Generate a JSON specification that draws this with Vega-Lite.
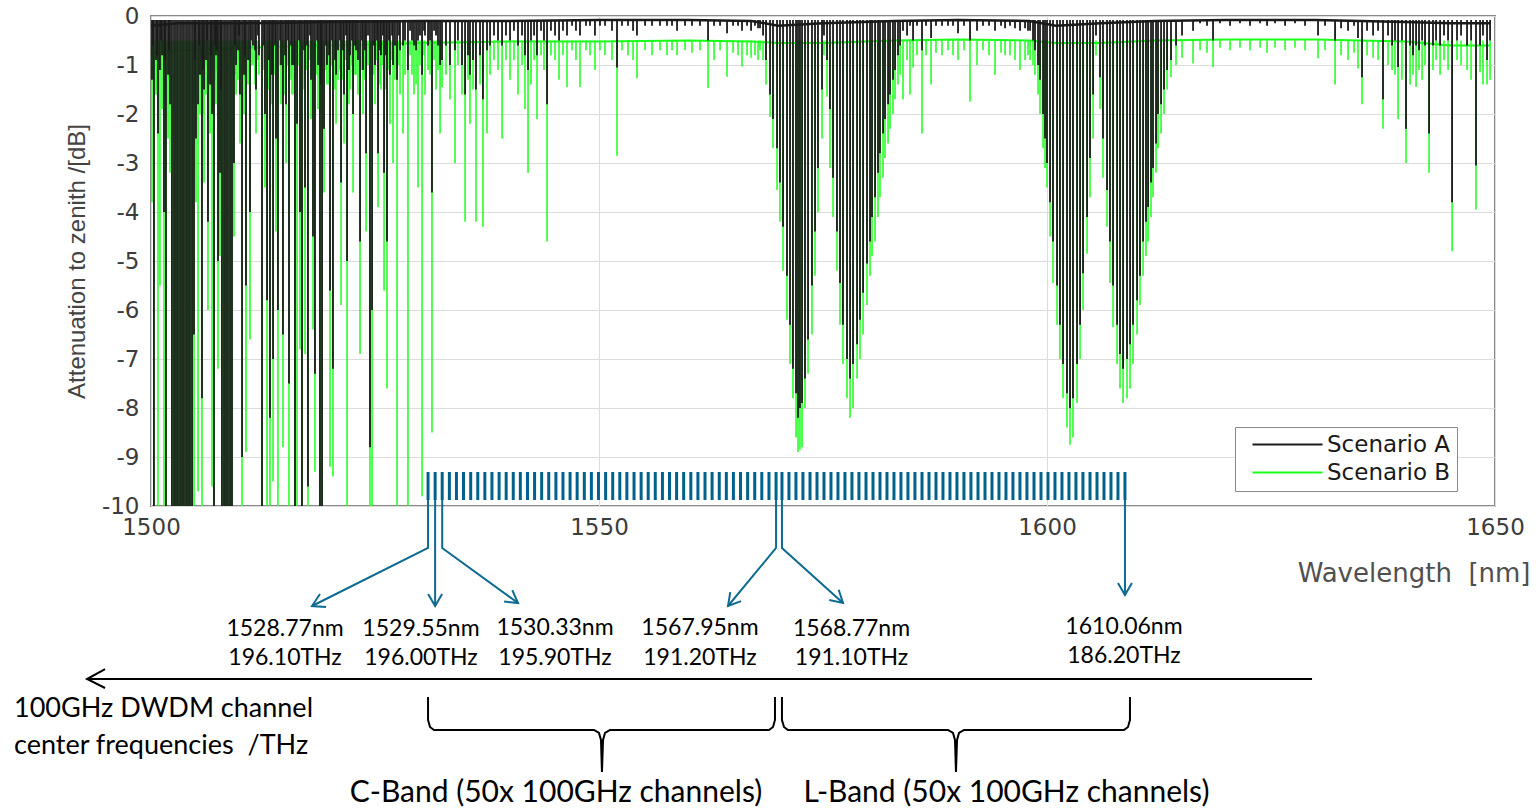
{
"$schema": "https://vega.github.io/schema/vega-lite/v6.json",
"width": 1344, "height": 490,
"autosize": {"type": "none"},
"padding": {"left": 151, "top": 16, "right": 43, "bottom": 305},
"background": "#ffffff",
"config": {
  "view": {"stroke": "#8a8a8a", "strokeWidth": 2},
  "axis": {"gridColor": "#dcdcdc", "gridWidth": 1, "domain": false, "ticks": false, "labelFont": "DejaVu Sans", "labelFontSize": 23, "labelColor": "#3c3c3c"}
},
"datasets": {
"lines": [
{"w":1500.11,"a":-1.3,"b":-3.8},{"w":1500.22,"a":-0.6,"b":-1.2},{"w":1500.33,"a":-10,"b":-10},{"w":1500.56,"a":-0.9,"b":-1.6},{"w":1500.67,"a":-0.8,"b":-1.5},{"w":1500.78,"a":-2.4,"b":-10},{"w":1501.0,"a":-1.1,"b":-5.5},{"w":1501.12,"a":-0.5,"b":-1.1},{"w":1501.23,"a":-0.8,"b":-1.9},{"w":1501.45,"a":-4.0,"b":-10},{"w":1501.56,"a":-0.9,"b":-1.6},{"w":1501.67,"a":-10,"b":-10},{"w":1501.9,"a":-1.2,"b":-2.5},{"w":1502.01,"a":-0.7,"b":-1.3},{"w":1502.12,"a":-1.8,"b":-3.2},
{"w":1502.34,"a":-10,"b":-10},{"w":1502.57,"a":-10,"b":-10},{"w":1502.79,"a":-10,"b":-10},{"w":1503.01,"a":-10,"b":-10},{"w":1503.24,"a":-10,"b":-10},{"w":1503.46,"a":-10,"b":-10},{"w":1503.68,"a":-10,"b":-10},{"w":1503.91,"a":-10,"b":-10},{"w":1504.13,"a":-10,"b":-10},{"w":1504.35,"a":-10,"b":-10},{"w":1504.58,"a":-10,"b":-10},
{"w":1504.8,"a":-6.5,"b":-10},{"w":1504.91,"a":-0.9,"b":-1.7},{"w":1505.02,"a":-2.5,"b":-3.8},{"w":1505.25,"a":-1.8,"b":-9.7},{"w":1505.36,"a":-0.6,"b":-1.2},{"w":1505.47,"a":-1.2,"b":-2.0},{"w":1505.69,"a":-7.8,"b":-10},{"w":1505.8,"a":-1.1,"b":-2.0},{"w":1505.92,"a":-1.5,"b":-3.4},{"w":1506.14,"a":-0.9,"b":-1.6},{"w":1506.25,"a":-0.5,"b":-1.0},{"w":1506.36,"a":-4.2,"b":-6.0},{"w":1506.59,"a":-1.4,"b":-2.4},{"w":1506.7,"a":-0.8,"b":-1.4},{"w":1506.81,"a":-2.0,"b":-9.6},{"w":1507.03,"a":-10,"b":-10},{"w":1507.14,"a":-0.6,"b":-1.3},{"w":1507.25,"a":-0.8,"b":-1.8},{"w":1507.37,"a":-0.7,"b":-1.1},{"w":1507.48,"a":-5.0,"b":-7.2},{"w":1507.7,"a":-3.2,"b":-4.9},{"w":1507.81,"a":-1.5,"b":-2.2},
{"w":1507.92,"a":-10,"b":-10},{"w":1508.15,"a":-10,"b":-10},{"w":1508.37,"a":-10,"b":-10},{"w":1508.59,"a":-10,"b":-10},{"w":1508.82,"a":-10,"b":-10},{"w":1509.04,"a":-10,"b":-10},
{"w":1509.26,"a":-3.0,"b":-4.5},{"w":1509.38,"a":-0.6,"b":-1.2},{"w":1509.49,"a":-1.0,"b":-1.6},{"w":1509.71,"a":-0.7,"b":-1.3},{"w":1509.82,"a":-0.4,"b":-0.9},{"w":1509.93,"a":-1.6,"b":-2.6},{"w":1510.16,"a":-9.0,"b":-10},{"w":1510.38,"a":-1.2,"b":-2.0},{"w":1510.49,"a":-0.8,"b":-1.3},{"w":1510.6,"a":-5.5,"b":-8.9},{"w":1510.83,"a":-0.9,"b":-1.4},{"w":1511.05,"a":-4.0,"b":-6.6},{"w":1511.16,"a":-0.5,"b":-1.0},{"w":1511.38,"a":-0.6,"b":-1.0},{"w":1511.61,"a":-0.7,"b":-1.4},{"w":1511.72,"a":-1.5,"b":-2.4},{"w":1511.94,"a":-0.4,"b":-0.9},{"w":1512.05,"a":-0.8,"b":-1.2},{"w":1512.39,"a":-10,"b":-10},{"w":1512.61,"a":-0.6,"b":-1.1},{"w":1512.72,"a":-2.0,"b":-3.5},{"w":1512.95,"a":-5.8,"b":-10},{"w":1513.17,"a":-0.9,"b":-1.5},{"w":1513.28,"a":-8.2,"b":-10},{"w":1513.5,"a":-1.2,"b":-1.8},{"w":1513.62,"a":-7.0,"b":-9.5},{"w":1513.84,"a":-0.6,"b":-1.2},{"w":1513.95,"a":-2.5,"b":-4.4},{"w":1514.17,"a":-6.0,"b":-10},{"w":1514.4,"a":-0.5,"b":-1.0},{"w":1514.51,"a":-1.0,"b":-1.8},{"w":1514.73,"a":-6.5,"b":-8.8},{"w":1514.96,"a":-0.8,"b":-1.6},{"w":1515.07,"a":-1.8,"b":-3.0},{"w":1515.29,"a":-0.5,"b":-1.0},{"w":1515.4,"a":-7.5,"b":-10},{"w":1515.63,"a":-0.6,"b":-1.3},{"w":1515.74,"a":-1.0,"b":-1.6},{"w":1515.96,"a":-1.0,"b":-1.6},{"w":1516.07,"a":-10,"b":-10},{"w":1516.3,"a":-2.2,"b":-10},{"w":1516.52,"a":-0.5,"b":-1.0},{"w":1516.63,"a":-4.0,"b":-6.8},{"w":1516.85,"a":-10,"b":-10},{"w":1517.08,"a":-0.7,"b":-1.5},{"w":1517.19,"a":-3.5,"b":-6.9},{"w":1517.41,"a":-0.6,"b":-1.1},{"w":1517.52,"a":-9.6,"b":-10},{"w":1517.75,"a":-0.4,"b":-0.9},{"w":1517.86,"a":-1.3,"b":-2.1},{"w":1518.08,"a":-4.5,"b":-6.4},{"w":1518.3,"a":-7.3,"b":-9.3},{"w":1518.53,"a":-0.5,"b":-1.2},{"w":1518.64,"a":-1.0,"b":-1.9},{"w":1518.86,"a":-10,"b":-10},{"w":1518.97,"a":-1.4,"b":-2.0},{"w":1519.09,"a":-10,"b":-10},{"w":1519.31,"a":-2.3,"b":-3.6},{"w":1519.53,"a":-0.6,"b":-1.1},{"w":1519.64,"a":-1.0,"b":-1.4},{"w":1519.87,"a":-0.8,"b":-1.4},{"w":1519.98,"a":-5.6,"b":-9.2},{"w":1520.2,"a":-0.5,"b":-1.0},{"w":1520.31,"a":-7.2,"b":-9.4},{"w":1520.54,"a":-0.9,"b":-1.5},{"w":1520.65,"a":-1.2,"b":-2.2},{"w":1520.87,"a":-0.7,"b":-1.3},{"w":1521.09,"a":-0.5,"b":-1.1},{"w":1521.21,"a":-3.4,"b":-5.9},{"w":1521.43,"a":-0.7,"b":-1.3},{"w":1521.54,"a":-1.6,"b":-2.6},{"w":1521.76,"a":-0.4,"b":-0.9},{"w":1521.88,"a":-5.0,"b":-10},{"w":1522.1,"a":-1.1,"b":-1.8},{"w":1522.21,"a":-0.8,"b":-1.5},{"w":1522.43,"a":-0.5,"b":-1.0},{"w":1522.55,"a":-2.0,"b":-3.6},{"w":1522.77,"a":-0.6,"b":-1.2},{"w":1522.88,"a":-0.7,"b":-1.2},{"w":1523.1,"a":-0.9,"b":-1.6},{"w":1523.33,"a":-4.6,"b":-6.9},{"w":1523.55,"a":-0.5,"b":-1.1},{"w":1523.66,"a":-1.1,"b":-2.0},{"w":1523.88,"a":-0.7,"b":-1.3},{"w":1524.0,"a":-2.8,"b":-4.4},{"w":1524.22,"a":-0.4,"b":-1.0},{"w":1524.44,"a":-8.8,"b":-10},{"w":1524.67,"a":-6.0,"b":-10},{"w":1524.89,"a":-0.6,"b":-1.2},{"w":1525.0,"a":-1.0,"b":-1.8},{"w":1525.22,"a":-0.5,"b":-0.9},{"w":1525.34,"a":-2.8,"b":-3.9},{"w":1525.56,"a":-0.7,"b":-1.4},{"w":1525.67,"a":-0.8,"b":-1.5},{"w":1525.89,"a":-0.4,"b":-1.0},{"w":1526.01,"a":-3.2,"b":-5.6},{"w":1526.23,"a":-0.8,"b":-1.5},{"w":1526.34,"a":-4.6,"b":-7.6},{"w":1526.56,"a":-0.5,"b":-1.1},{"w":1526.67,"a":-1.2,"b":-2.2},{"w":1526.9,"a":-0.4,"b":-0.9},{"w":1527.01,"a":-1.0,"b":-3.0},{"w":1527.23,"a":-0.6,"b":-1.3},{"w":1527.46,"a":-1.3,"b":-10},{"w":1527.68,"a":-0.4,"b":-1.0},{"w":1527.79,"a":-0.7,"b":-1.6},{"w":1528.13,"a":-0.6,"b":-2.4},{"w":1528.35,"a":-0.5,"b":-1.2},{"w":1528.68,"a":-1.1,"b":-10},{"w":1528.91,"a":-0.3,"b":-0.8},{"w":1529.13,"a":-0.5,"b":-1.2},{"w":1529.35,"a":-0.6,"b":-1.6},{"w":1529.58,"a":-0.7,"b":-1.4},{"w":1529.8,"a":-0.5,"b":-3.5},{"w":1530.02,"a":-0.4,"b":-1.0},{"w":1530.25,"a":-1.2,"b":-9.8},{"w":1530.47,"a":-0.3,"b":-0.8},{"w":1530.58,"a":-0.4,"b":-1.6},{"w":1530.92,"a":-0.6,"b":-1.1},{"w":1531.14,"a":-0.5,"b":-1.2},{"w":1531.36,"a":-3.6,"b":-8.5},{"w":1531.59,"a":-0.3,"b":-0.9},{"w":1531.81,"a":-0.4,"b":-1.5},{"w":1532.03,"a":-0.6,"b":-1.1},{"w":1532.26,"a":-1.0,"b":-2.4},
{"w":1532.48,"a":-0.9,"b":-1.45},{"w":1532.92,"a":-0.6,"b":-1.2},{"w":1533.37,"a":-1.0,"b":-1.7},{"w":1533.93,"a":-0.7,"b":-3.0},{"w":1534.26,"a":-0.5,"b":-1.0},{"w":1534.71,"a":-1.0,"b":-1.6},{"w":1535.05,"a":-1.6,"b":-4.2},{"w":1535.38,"a":-0.8,"b":-1.3},{"w":1535.6,"a":-1.2,"b":-2.2},{"w":1535.94,"a":-0.9,"b":-1.5},{"w":1536.27,"a":-1.5,"b":-4.2},{"w":1536.72,"a":-0.8,"b":-1.4},{"w":1537.05,"a":-1.7,"b":-4.3},{"w":1537.5,"a":-0.7,"b":-2.4},{"w":1537.84,"a":-0.6,"b":-1.2},{"w":1538.28,"a":-0.4,"b":-0.9},{"w":1538.73,"a":-0.5,"b":-1.1},{"w":1539.18,"a":-0.6,"b":-2.5},{"w":1539.62,"a":-0.4,"b":-0.9},{"w":1540.07,"a":-0.5,"b":-1.3},{"w":1540.51,"a":-0.3,"b":-0.9},{"w":1540.96,"a":-0.6,"b":-1.6},{"w":1541.41,"a":-0.4,"b":-1.0},{"w":1541.74,"a":-0.8,"b":-1.9},{"w":1542.08,"a":-1.1,"b":-3.2},{"w":1542.41,"a":-0.5,"b":-1.4},{"w":1542.75,"a":-0.4,"b":-0.9},{"w":1543.08,"a":-0.8,"b":-2.1},{"w":1543.53,"a":-0.3,"b":-0.8},{"w":1543.86,"a":-0.5,"b":-1.1},{"w":1544.2,"a":-1.8,"b":-4.6},{"w":1544.64,"a":-0.3,"b":-0.8},{"w":1545.09,"a":-0.4,"b":-0.9},{"w":1545.54,"a":-0.5,"b":-1.3},{"w":1545.98,"a":-0.3,"b":-0.8},{"w":1546.43,"a":-0.4,"b":-1.45},{"w":1546.99,"a":-0.2,"b":-0.7},{"w":1547.43,"a":-0.3,"b":-0.9},{"w":1547.88,"a":-0.4,"b":-1.45},{"w":1548.55,"a":-0.2,"b":-0.7},{"w":1549.0,"a":-0.2,"b":-0.8},{"w":1549.55,"a":-0.4,"b":-1.1},{"w":1550.11,"a":-0.2,"b":-0.7},{"w":1550.67,"a":-0.2,"b":-0.8},{"w":1551.45,"a":-0.3,"b":-0.9},{"w":1552.01,"a":-1.05,"b":-2.85},{"w":1552.57,"a":-0.2,"b":-0.7},{"w":1553.24,"a":-0.2,"b":-0.8},{"w":1553.8,"a":-0.3,"b":-0.9},{"w":1554.24,"a":-0.4,"b":-1.27},{"w":1555.14,"a":-0.2,"b":-0.7},{"w":1555.92,"a":-0.2,"b":-0.8},{"w":1556.81,"a":-0.2,"b":-0.7},{"w":1557.59,"a":-0.2,"b":-0.8},{"w":1558.15,"a":-0.2,"b":-0.7},{"w":1558.71,"a":-0.3,"b":-0.8},{"w":1559.6,"a":-0.2,"b":-0.7},{"w":1560.38,"a":-0.2,"b":-0.75},{"w":1561.27,"a":-0.2,"b":-0.7},{"w":1562.17,"a":-0.5,"b":-1.47},{"w":1562.84,"a":-0.2,"b":-0.9},{"w":1563.51,"a":-0.2,"b":-0.7},{"w":1564.29,"a":-0.35,"b":-1.24},{"w":1564.96,"a":-0.2,"b":-0.75},{"w":1565.52,"a":-0.2,"b":-0.8},{"w":1565.96,"a":-0.3,"b":-1.03},{"w":1566.52,"a":-0.2,"b":-0.8},{"w":1566.97,"a":-0.3,"b":-0.85},{"w":1567.41,"a":-0.2,"b":-0.8},{"w":1567.75,"a":-0.25,"b":-0.9},
{"w":1567.97,"a":-0.25,"b":-0.7},{"w":1568.31,"a":-0.4,"b":-0.9},{"w":1568.64,"a":-0.9,"b":-1.4},{"w":1569.09,"a":-1.6,"b":-2.06},{"w":1569.42,"a":-2.1,"b":-2.7},{"w":1569.87,"a":-2.7,"b":-3.55},{"w":1570.2,"a":-3.4,"b":-4.2},{"w":1570.54,"a":-4.3,"b":-5.2},{"w":1570.98,"a":-5.3,"b":-6.2},{"w":1571.32,"a":-6.3,"b":-7.1},{"w":1571.65,"a":-7.2,"b":-7.8},{"w":1571.99,"a":-7.7,"b":-8.6},{"w":1572.21,"a":-8.2,"b":-8.9},{"w":1572.43,"a":-8.0,"b":-8.85},{"w":1572.66,"a":-7.9,"b":-8.8},{"w":1572.99,"a":-7.4,"b":-8.0},{"w":1573.33,"a":-6.6,"b":-7.3},{"w":1573.77,"a":-5.5,"b":-6.5},{"w":1574.11,"a":-4.4,"b":-5.3},{"w":1574.44,"a":-3.1,"b":-4.0},{"w":1574.89,"a":-1.5,"b":-2.5},{"w":1575.11,"a":-0.4,"b":-0.8},{"w":1575.45,"a":-0.9,"b":-1.65},{"w":1575.78,"a":-1.9,"b":-3.1},{"w":1576.12,"a":-3.3,"b":-4.1},{"w":1576.56,"a":-4.4,"b":-5.2},{"w":1576.9,"a":-5.45,"b":-6.3},{"w":1577.23,"a":-6.3,"b":-7.1},{"w":1577.68,"a":-7.0,"b":-7.8},{"w":1578.02,"a":-7.4,"b":-8.2},{"w":1578.35,"a":-7.1,"b":-8.0},{"w":1578.8,"a":-6.7,"b":-7.4},{"w":1579.13,"a":-6.2,"b":-7.0},{"w":1579.47,"a":-5.65,"b":-6.5},{"w":1579.91,"a":-5.05,"b":-5.9},{"w":1580.25,"a":-4.6,"b":-5.3},{"w":1580.47,"a":-4.1,"b":-4.9},{"w":1580.81,"a":-3.7,"b":-4.6},{"w":1581.14,"a":-3.2,"b":-4.1},{"w":1581.36,"a":-2.8,"b":-3.7},{"w":1581.7,"a":-2.4,"b":-3.3},{"w":1581.92,"a":-2.1,"b":-2.9},{"w":1582.26,"a":-1.8,"b":-2.6},{"w":1582.48,"a":-1.6,"b":-2.3},{"w":1582.81,"a":-1.3,"b":-2.0},{"w":1583.04,"a":-1.1,"b":-1.7},{"w":1583.37,"a":-0.8,"b":-1.4},{"w":1583.6,"a":-0.6,"b":-1.2},
{"w":1583.93,"a":-0.3,"b":-1.7},{"w":1584.38,"a":-0.4,"b":-0.9},{"w":1584.71,"a":-0.2,"b":-1.6},{"w":1585.05,"a":-0.5,"b":-1.05},{"w":1585.49,"a":-0.2,"b":-0.8},{"w":1586.05,"a":-0.7,"b":-2.4},{"w":1586.5,"a":-0.2,"b":-0.8},{"w":1587.06,"a":-0.45,"b":-1.4},{"w":1587.61,"a":-0.2,"b":-0.75},{"w":1588.28,"a":-0.2,"b":-0.8},{"w":1588.95,"a":-0.2,"b":-0.7},{"w":1589.51,"a":-0.2,"b":-0.8},{"w":1590.07,"a":-0.35,"b":-0.9},{"w":1590.74,"a":-0.2,"b":-0.7},{"w":1591.41,"a":-0.5,"b":-1.75},{"w":1592.19,"a":-0.3,"b":-1.0},{"w":1592.86,"a":-0.2,"b":-0.7},{"w":1593.53,"a":-0.2,"b":-0.8},{"w":1594.2,"a":-0.3,"b":-1.2},{"w":1594.87,"a":-0.2,"b":-0.75},{"w":1595.32,"a":-0.25,"b":-0.8},{"w":1595.87,"a":-0.2,"b":-0.8},{"w":1596.43,"a":-0.25,"b":-0.9},{"w":1596.99,"a":-0.3,"b":-1.1},{"w":1597.55,"a":-0.25,"b":-0.9},
{"w":1597.88,"a":-0.3,"b":-0.8},{"w":1598.11,"a":-0.3,"b":-0.9},{"w":1598.44,"a":-0.5,"b":-1.0},{"w":1598.66,"a":-0.7,"b":-1.2},{"w":1599.0,"a":-1.0,"b":-1.6},{"w":1599.22,"a":-1.3,"b":-2.0},{"w":1599.56,"a":-2.0,"b":-2.7},{"w":1599.78,"a":-2.5,"b":-3.1},{"w":1600.0,"a":-3.0,"b":-3.5},{"w":1600.34,"a":-3.8,"b":-4.5},{"w":1600.67,"a":-4.6,"b":-5.45},{"w":1601.12,"a":-5.5,"b":-6.3},{"w":1601.45,"a":-6.3,"b":-7.0},{"w":1601.79,"a":-7.1,"b":-7.8},{"w":1602.23,"a":-7.7,"b":-8.4},{"w":1602.57,"a":-8.0,"b":-8.75},{"w":1602.9,"a":-7.8,"b":-8.6},{"w":1603.35,"a":-7.1,"b":-7.9},{"w":1603.69,"a":-6.3,"b":-7.0},{"w":1604.02,"a":-5.25,"b":-6.0},{"w":1604.47,"a":-4.1,"b":-4.85},{"w":1604.8,"a":-2.9,"b":-3.7},{"w":1605.14,"a":-1.6,"b":-2.5},{"w":1605.47,"a":-0.4,"b":-0.8},{"w":1605.92,"a":-1.25,"b":-1.9},{"w":1606.25,"a":-2.5,"b":-3.3},{"w":1606.7,"a":-3.55,"b":-4.3},{"w":1607.03,"a":-4.6,"b":-5.45},{"w":1607.37,"a":-5.5,"b":-6.35},{"w":1607.82,"a":-6.3,"b":-7.1},{"w":1608.15,"a":-6.9,"b":-7.6},{"w":1608.49,"a":-7.2,"b":-7.9},{"w":1608.93,"a":-7.0,"b":-7.8},{"w":1609.27,"a":-6.7,"b":-7.6},{"w":1609.6,"a":-6.3,"b":-7.1},{"w":1610.05,"a":-5.8,"b":-6.5},{"w":1610.38,"a":-5.3,"b":-5.9},{"w":1610.72,"a":-4.6,"b":-5.3},{"w":1611.05,"a":-4.2,"b":-4.9},{"w":1611.28,"a":-3.9,"b":-4.6},{"w":1611.61,"a":-3.4,"b":-4.1},{"w":1611.83,"a":-3.1,"b":-3.7},{"w":1612.17,"a":-2.6,"b":-3.2},{"w":1612.39,"a":-2.0,"b":-2.7},{"w":1612.73,"a":-1.8,"b":-2.4},{"w":1613.06,"a":-1.5,"b":-2.0},{"w":1613.4,"a":-1.1,"b":-1.5},{"w":1613.84,"a":-0.9,"b":-1.25},{"w":1614.4,"a":-0.6,"b":-1.0},{"w":1615.07,"a":-0.4,"b":-0.85},
{"w":1616.3,"a":-0.3,"b":-0.97},{"w":1617.08,"a":-0.15,"b":-0.7},{"w":1617.86,"a":-0.2,"b":-0.75},{"w":1618.53,"a":-0.5,"b":-1.04},{"w":1619.31,"a":-0.15,"b":-0.65},{"w":1620.43,"a":-0.2,"b":-0.7},{"w":1621.54,"a":-0.15,"b":-0.65},{"w":1622.66,"a":-0.2,"b":-0.7},{"w":1623.78,"a":-0.15,"b":-0.65},{"w":1624.56,"a":-0.2,"b":-0.75},{"w":1625.45,"a":-0.15,"b":-0.65},{"w":1626.57,"a":-0.2,"b":-0.7},{"w":1627.68,"a":-0.15,"b":-0.65},{"w":1628.8,"a":-0.2,"b":-0.7},{"w":1630.25,"a":-0.4,"b":-0.86},{"w":1631.03,"a":-0.2,"b":-0.7},{"w":1632.15,"a":-0.5,"b":-1.4},{"w":1632.82,"a":-0.25,"b":-0.8},{"w":1633.6,"a":-0.3,"b":-0.9},{"w":1634.27,"a":-0.2,"b":-0.75},{"w":1634.71,"a":-0.45,"b":-1.07},{"w":1635.16,"a":-1.25,"b":-1.8},{"w":1635.72,"a":-0.3,"b":-0.8},{"w":1636.39,"a":-0.4,"b":-0.85},{"w":1636.95,"a":-0.3,"b":-0.9},{"w":1637.5,"a":-1.7,"b":-2.3},{"w":1638.06,"a":-0.4,"b":-1.0},{"w":1638.51,"a":-0.6,"b":-1.1},{"w":1638.84,"a":-0.5,"b":-1.2},{"w":1639.18,"a":-1.04,"b":-2.1},{"w":1639.62,"a":-0.5,"b":-1.3},{"w":1640.07,"a":-2.3,"b":-3.0},{"w":1640.52,"a":-0.6,"b":-1.4},{"w":1640.85,"a":-0.8,"b":-1.2},{"w":1641.19,"a":-0.6,"b":-1.45},{"w":1641.52,"a":-0.7,"b":-1.1},{"w":1641.86,"a":-0.5,"b":-1.3},{"w":1642.19,"a":-0.6,"b":-1.0},{"w":1642.64,"a":-2.4,"b":-3.2},{"w":1643.08,"a":-0.6,"b":-1.1},{"w":1643.42,"a":-0.5,"b":-0.9},{"w":1643.87,"a":-0.6,"b":-1.2},{"w":1644.31,"a":-0.4,"b":-0.9},{"w":1644.76,"a":-0.5,"b":-1.1},{"w":1645.21,"a":-3.8,"b":-4.8},{"w":1645.76,"a":-0.5,"b":-0.9},{"w":1646.21,"a":-0.4,"b":-1.0},{"w":1646.88,"a":-0.6,"b":-1.1},{"w":1647.33,"a":-0.5,"b":-1.3},{"w":1647.88,"a":-3.05,"b":-3.95},{"w":1648.33,"a":-0.6,"b":-1.15},{"w":1648.66,"a":-0.4,"b":-1.4},{"w":1649.11,"a":-0.9,"b":-1.4},{"w":1649.45,"a":-0.5,"b":-1.3}
],
"base": [
{"w":1500.0,"a":-0.2,"b":-0.75},{"w":1503,"a":-0.15,"b":-0.7},{"w":1510,"a":-0.15,"b":-0.65},{"w":1520,"a":-0.12,"b":-0.6},{"w":1530,"a":-0.1,"b":-0.55},{"w":1540,"a":-0.1,"b":-0.52},{"w":1550,"a":-0.08,"b":-0.52},{"w":1560,"a":-0.08,"b":-0.5},{"w":1567,"a":-0.1,"b":-0.52},{"w":1570,"a":-0.2,"b":-0.55},{"w":1575,"a":-0.15,"b":-0.55},{"w":1583,"a":-0.1,"b":-0.5},{"w":1590,"a":-0.08,"b":-0.48},{"w":1598,"a":-0.1,"b":-0.5},{"w":1601,"a":-0.2,"b":-0.55},{"w":1606,"a":-0.15,"b":-0.55},{"w":1612,"a":-0.1,"b":-0.5},{"w":1620,"a":-0.08,"b":-0.48},{"w":1630,"a":-0.08,"b":-0.48},{"w":1640,"a":-0.12,"b":-0.52},{"w":1645,"a":-0.15,"b":-0.6},{"w":1649.5,"a":-0.15,"b":-0.6}
],
"comb": [
{"w":1530.92},{"w":1531.71},{"w":1532.5},{"w":1533.3},{"w":1534.09},{"w":1534.88},{"w":1535.68},{"w":1536.47},{"w":1537.26},{"w":1538.05},{"w":1538.85},{"w":1539.64},{"w":1540.43},{"w":1541.22},{"w":1542.02},{"w":1542.81},{"w":1543.6},{"w":1544.39},{"w":1545.19},{"w":1545.98},{"w":1546.77},{"w":1547.56},{"w":1548.36},{"w":1549.15},{"w":1549.94},{"w":1550.74},{"w":1551.53},{"w":1552.32},{"w":1553.11},{"w":1553.91},{"w":1554.7},{"w":1555.49},{"w":1556.28},{"w":1557.08},{"w":1557.87},{"w":1558.66},{"w":1559.45},{"w":1560.25},{"w":1561.04},{"w":1561.83},{"w":1562.62},{"w":1563.42},{"w":1564.21},{"w":1565.0},{"w":1565.79},{"w":1566.59},{"w":1567.38},{"w":1568.17},{"w":1568.97},{"w":1569.76},
{"w":1570.42},{"w":1571.2},{"w":1571.98},{"w":1572.76},{"w":1573.55},{"w":1574.33},{"w":1575.11},{"w":1575.89},{"w":1576.67},{"w":1577.45},{"w":1578.23},{"w":1579.01},{"w":1579.8},{"w":1580.58},{"w":1581.36},{"w":1582.14},{"w":1582.92},{"w":1583.7},{"w":1584.48},{"w":1585.26},{"w":1586.05},{"w":1586.83},{"w":1587.61},{"w":1588.39},{"w":1589.17},{"w":1589.95},{"w":1590.73},{"w":1591.51},{"w":1592.3},{"w":1593.08},{"w":1593.86},{"w":1594.64},{"w":1595.42},{"w":1596.2},{"w":1596.98},{"w":1597.76},{"w":1598.55},{"w":1599.33},{"w":1600.11},{"w":1600.89},{"w":1601.67},{"w":1602.45},{"w":1603.23},{"w":1604.01},{"w":1604.8},{"w":1605.58},{"w":1606.36},{"w":1607.14},{"w":1607.92},{"w":1608.7}
],
"blue": [
{"id":"a1","o":1,"w":1530.92,"db":-9.878},{"id":"a1","o":2,"w":1530.92,"db":-10.857},{"id":"a1","o":3,"w":1517.97,"db":-12.041},
{"id":"a1h","o":1,"w":1519.53,"db":-12.061},{"id":"a1h","o":2,"w":1517.97,"db":-12.041},{"id":"a1h","o":3,"w":1518.86,"db":-11.796},
{"id":"a2","o":1,"w":1531.71,"db":-9.878},{"id":"a2","o":2,"w":1531.71,"db":-12.041},
{"id":"a2h","o":1,"w":1530.93,"db":-11.796},{"id":"a2h","o":2,"w":1531.71,"db":-12.041},{"id":"a2h","o":3,"w":1532.49,"db":-11.796},
{"id":"a3","o":1,"w":1532.5,"db":-9.878},{"id":"a3","o":2,"w":1532.5,"db":-10.857},{"id":"a3","o":3,"w":1540.96,"db":-11.98},
{"id":"a3h","o":1,"w":1540.32,"db":-11.718},{"id":"a3h","o":2,"w":1540.96,"db":-11.98},{"id":"a3h","o":3,"w":1539.41,"db":-11.951},
{"id":"a4","o":1,"w":1569.76,"db":-9.878},{"id":"a4","o":2,"w":1569.76,"db":-10.857},{"id":"a4","o":3,"w":1564.4,"db":-12.041},
{"id":"a4h","o":1,"w":1565.86,"db":-11.941},{"id":"a4h","o":2,"w":1564.4,"db":-12.041},{"id":"a4h","o":3,"w":1564.65,"db":-11.759},
{"id":"a5","o":1,"w":1570.42,"db":-9.878},{"id":"a5","o":2,"w":1570.42,"db":-10.857},{"id":"a5","o":3,"w":1577.23,"db":-11.98},
{"id":"a5h","o":1,"w":1576.75,"db":-11.708},{"id":"a5h","o":2,"w":1577.23,"db":-11.98},{"id":"a5h","o":3,"w":1575.7,"db":-11.92},
{"id":"a6","o":1,"w":1608.7,"db":-9.878},{"id":"a6","o":2,"w":1608.7,"db":-11.816},
{"id":"a6h","o":1,"w":1607.92,"db":-11.571},{"id":"a6h","o":2,"w":1608.7,"db":-11.816},{"id":"a6h","o":3,"w":1609.48,"db":-11.571}
],
"black": [
{"id":"ar","o":1,"w":1629.58,"db":-13.531},{"id":"ar","o":2,"w":1492.86,"db":-13.531},
{"id":"arh","o":1,"w":1494.87,"db":-13.327},{"id":"arh","o":2,"w":1492.86,"db":-13.531},{"id":"arh","o":3,"w":1494.87,"db":-13.714},
{"id":"cb","o":1,"w":1530.92,"db":-13.898},{"id":"cb","o":2,"w":1530.92,"db":-14.367},{"id":"cb","o":3,"w":1531.14,"db":-14.51},{"id":"cb","o":4,"w":1531.58,"db":-14.571},{"id":"cb","o":5,"w":1549.44,"db":-14.571},{"id":"cb","o":6,"w":1550.0,"db":-14.633},{"id":"cb","o":7,"w":1550.22,"db":-14.776},{"id":"cb","o":8,"w":1550.33,"db":-15.429},{"id":"cb","o":9,"w":1550.45,"db":-14.776},{"id":"cb","o":10,"w":1550.67,"db":-14.633},{"id":"cb","o":11,"w":1551.23,"db":-14.571},{"id":"cb","o":12,"w":1568.97,"db":-14.571},{"id":"cb","o":13,"w":1569.42,"db":-14.51},{"id":"cb","o":14,"w":1569.64,"db":-14.367},{"id":"cb","o":15,"w":1569.64,"db":-13.898},
{"id":"lb","o":1,"w":1570.42,"db":-13.898},{"id":"lb","o":2,"w":1570.42,"db":-14.367},{"id":"lb","o":3,"w":1570.65,"db":-14.51},{"id":"lb","o":4,"w":1571.09,"db":-14.571},{"id":"lb","o":5,"w":1588.95,"db":-14.571},{"id":"lb","o":6,"w":1589.51,"db":-14.633},{"id":"lb","o":7,"w":1589.73,"db":-14.776},{"id":"lb","o":8,"w":1589.84,"db":-15.429},{"id":"lb","o":9,"w":1589.96,"db":-14.776},{"id":"lb","o":10,"w":1590.18,"db":-14.633},{"id":"lb","o":11,"w":1590.74,"db":-14.571},{"id":"lb","o":12,"w":1608.59,"db":-14.571},{"id":"lb","o":13,"w":1609.04,"db":-14.51},{"id":"lb","o":14,"w":1609.26,"db":-14.367},{"id":"lb","o":15,"w":1609.26,"db":-13.898}
],
"txt": [
{"w":1514.96,"db":-12.51,"t":"1528.77nm","k":"lab"},{"w":1514.96,"db":-13.11,"t":"196.10THz","k":"lab"},
{"w":1530.13,"db":-12.51,"t":"1529.55nm","k":"lab"},{"w":1530.13,"db":-13.11,"t":"196.00THz","k":"lab"},
{"w":1545.09,"db":-12.49,"t":"1530.33nm","k":"lab"},{"w":1545.09,"db":-13.11,"t":"195.90THz","k":"lab"},
{"w":1561.27,"db":-12.49,"t":"1567.95nm","k":"lab"},{"w":1561.27,"db":-13.1,"t":"191.20THz","k":"lab"},
{"w":1578.18,"db":-12.51,"t":"1568.77nm","k":"lab"},{"w":1578.18,"db":-13.11,"t":"191.10THz","k":"lab"},
{"w":1608.59,"db":-12.46,"t":"1610.06nm","k":"lab"},{"w":1608.59,"db":-13.07,"t":"186.20THz","k":"lab"},
{"w":1484.71,"db":-14.14,"t":"100GHz DWDM channel","k":"left"},{"w":1484.71,"db":-14.9,"t":"center frequencies \u00a0/THz","k":"left"},
{"w":1545.2,"db":-15.86,"t":"C-Band (50x 100GHz channels)","k":"band"},{"w":1595.48,"db":-15.86,"t":"L-Band (50x 100GHz channels)","k":"band"}
]
},
"layer": [
{"data": {"name": "lines"}, "mark": {"type": "rule", "strokeWidth": 1.5},
 "encoding": {
  "x": {"field": "w", "type": "quantitative", "scale": {"domain": [1500, 1650], "nice": false, "zero": false},
        "axis": {"values": [1500, 1550, 1600, 1650], "format": "d", "labelFlush": false, "labelPadding": 10, "title": "Wavelength\u00a0 [nm]", "titleFont": "DejaVu Sans", "titleFontSize": 26, "titleFontWeight": "normal", "titleColor": "#505050", "titleAnchor": "end", "titleAlign": "right", "titleX": 1379, "titleY": 75, "titleBaseline": "alphabetic"}},
  "y": {"field": "b", "type": "quantitative", "scale": {"domain": [-10, 0], "nice": false, "zero": false},
        "axis": {"values": [0, -1, -2, -3, -4, -5, -6, -7, -8, -9, -10], "labelFlush": false, "labelExpr": "datum.value == 0 ? '0' : '-' + abs(datum.value)", "labelPadding": 12, "title": "Attenuation to zenith /[dB]", "titleFont": "Liberation Sans", "titleFontSize": 24, "titleFontWeight": "normal", "titleColor": "#444444", "titleAngle": -90, "titleX": -74, "titleY": 245, "titleAlign": "center", "titleBaseline": "middle"}},
  "y2": {"datum": -0.5},
  "color": {"datum": "Scenario B", "type": "nominal",
            "scale": {"domain": ["Scenario A", "Scenario B"], "range": ["#1a1a1a", "#1aff1a"]},
            "legend": {"title": null, "orient": "none", "legendX": 1084, "legendY": 411, "direction": "vertical", "symbolType": "M0,0H10", "symbolSize": 196, "symbolStrokeWidth": 2, "labelFont": "DejaVu Sans", "labelFontSize": 23, "labelColor": "#1a1a1a", "labelOffset": 63, "padding": 6, "rowPadding": 4, "strokeColor": "#8a8a8a", "fillColor": "#ffffff", "labelLimit": 300}}
 }},
{"data": {"name": "base"}, "mark": {"type": "line", "strokeWidth": 2},
 "encoding": {"x": {"field": "w", "type": "quantitative", "scale": {"domain": [1500, 1650], "nice": false, "zero": false}},
  "y": {"field": "b", "type": "quantitative", "scale": {"domain": [-10, 0], "nice": false, "zero": false}},
  "color": {"datum": "Scenario B", "type": "nominal"}}},
{"data": {"name": "lines"}, "mark": {"type": "rule", "strokeWidth": 1.8},
 "encoding": {"x": {"field": "w", "type": "quantitative", "scale": {"domain": [1500, 1650], "nice": false, "zero": false}},
  "y": {"field": "a", "type": "quantitative", "scale": {"domain": [-10, 0], "nice": false, "zero": false}},
  "y2": {"datum": -0.08},
  "color": {"datum": "Scenario A", "type": "nominal"}}},
{"data": {"name": "base"}, "mark": {"type": "line", "strokeWidth": 2.5},
 "encoding": {"x": {"field": "w", "type": "quantitative", "scale": {"domain": [1500, 1650], "nice": false, "zero": false}},
  "y": {"field": "a", "type": "quantitative", "scale": {"domain": [-10, 0], "nice": false, "zero": false}},
  "color": {"datum": "Scenario A", "type": "nominal"}}},
{"data": {"name": "comb"}, "mark": {"type": "rule", "strokeWidth": 3, "color": "#00628c"},
 "encoding": {"x": {"field": "w", "type": "quantitative", "scale": {"domain": [1500, 1650], "nice": false, "zero": false}},
  "y": {"datum": -9.306}, "y2": {"datum": -9.878}}},
{"data": {"name": "blue"}, "mark": {"type": "line", "strokeWidth": 2, "color": "#0d6a92"},
 "encoding": {"x": {"field": "w", "type": "quantitative", "scale": {"domain": [1500, 1650], "nice": false, "zero": false}},
  "y": {"field": "db", "type": "quantitative", "scale": {"domain": [-10, 0], "nice": false, "zero": false}},
  "detail": {"field": "id"}, "order": {"field": "o", "type": "quantitative"}}},
{"data": {"name": "black"}, "mark": {"type": "line", "strokeWidth": 2, "color": "#000000"},
 "encoding": {"x": {"field": "w", "type": "quantitative", "scale": {"domain": [1500, 1650], "nice": false, "zero": false}},
  "y": {"field": "db", "type": "quantitative", "scale": {"domain": [-10, 0], "nice": false, "zero": false}},
  "detail": {"field": "id"}, "order": {"field": "o", "type": "quantitative"}}},
{"data": {"name": "txt"}, "transform": [{"filter": "datum.k == 'lab'"}],
 "mark": {"type": "text", "font": "Lato", "fontSize": 23, "align": "center", "baseline": "middle", "color": "#000000"},
 "encoding": {"x": {"field": "w", "type": "quantitative", "scale": {"domain": [1500, 1650], "nice": false, "zero": false}},
  "y": {"field": "db", "type": "quantitative", "scale": {"domain": [-10, 0], "nice": false, "zero": false}},
  "text": {"field": "t"}}},
{"data": {"name": "txt"}, "transform": [{"filter": "datum.k == 'left'"}],
 "mark": {"type": "text", "font": "Lato", "fontSize": 27, "align": "left", "baseline": "middle", "color": "#000000"},
 "encoding": {"x": {"field": "w", "type": "quantitative", "scale": {"domain": [1500, 1650], "nice": false, "zero": false}},
  "y": {"field": "db", "type": "quantitative", "scale": {"domain": [-10, 0], "nice": false, "zero": false}},
  "text": {"field": "t"}}},
{"data": {"name": "txt"}, "transform": [{"filter": "datum.k == 'band'"}],
 "mark": {"type": "text", "font": "Lato", "fontSize": 30, "align": "center", "baseline": "middle", "color": "#000000"},
 "encoding": {"x": {"field": "w", "type": "quantitative", "scale": {"domain": [1500, 1650], "nice": false, "zero": false}},
  "y": {"field": "db", "type": "quantitative", "scale": {"domain": [-10, 0], "nice": false, "zero": false}},
  "text": {"field": "t"}}}
]
}
